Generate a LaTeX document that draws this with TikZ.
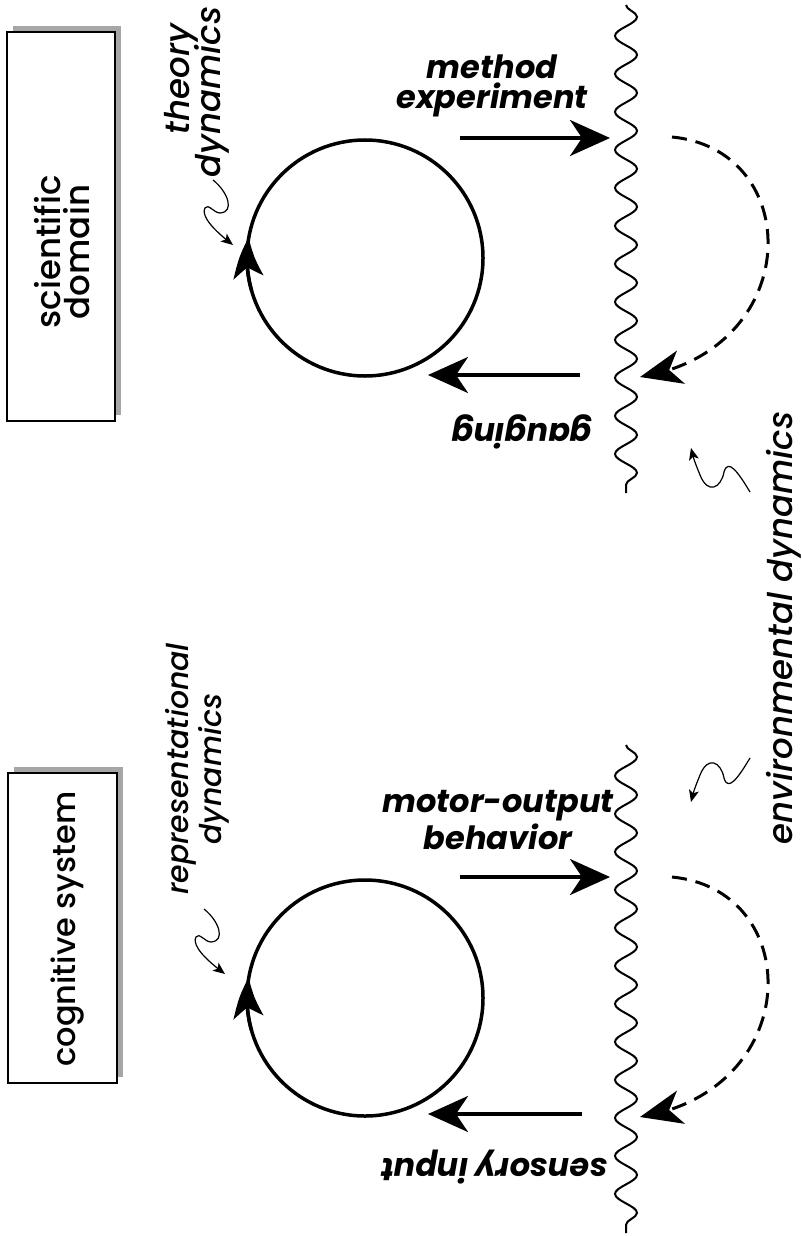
\documentclass[tikz,border=0pt]{standalone}
\usepackage{fontspec}
\setmainfont{Poppins}
\newfontfamily\dynfont{Poppins Medium Italic}
\newfontfamily\boxfont{Poppins Medium}
\usetikzlibrary{arrows.meta,decorations.pathmorphing,bending,shadows}
\begin{document}
\begin{tikzpicture}[x=0.5pt,y=0.5pt,
  boxlab/.style={font=\fontsize{17}{14.5}\boxfont, align=center, inner sep=0pt},
  dynlab/.style={font=\fontsize{15}{13}\dynfont, align=center, inner sep=0pt},
  biglab/.style={font=\fontsize{17}{14}\dynfont, align=center, inner sep=0pt},
  actlab/.style={font=\fontsize{16}{15}\selectfont\bfseries\itshape, align=center, inner sep=0pt},
  framebox/.style={draw, line width=0.7pt, fill=white, inner sep=0pt,
    drop shadow={shadow xshift=3pt, shadow yshift=3pt, fill=black!35, opacity=1}},
  loopc/.style={draw, circle, line width=1.75pt, inner sep=0pt, minimum size=118pt},
  bigarrow/.style={line width=1.75pt, -{Stealth[length=20pt,width=18pt,inset=6pt]}},
  looptip/.style={line width=1.75pt, -{Stealth[length=20pt,width=15pt,inset=5pt,bend]}},
  envarrow/.style={line width=1.5pt, dash pattern=on 7.5pt off 4.5pt, -{Stealth[length=21pt,width=17pt,inset=6pt]}},
  wavy/.style={line width=1pt, decorate, decoration={snake, segment length=19pt, amplitude=5.5pt}},
  pointer/.style={line width=0.6pt, -{Stealth[length=6pt,width=5pt,inset=1.5pt]}},
]
\useasboundingbox (0,0) rectangle (802,-1236);

% ---------------- top panel: scientific domain ----------------
\node[framebox, minimum width=54pt, minimum height=194.5pt] (box1) at (61,-226.5) {};
\node[boxlab, rotate=90] (t1) at (62,-252) {scientific\\domain};
\node[biglab, rotate=90] (d1a) at (181,-79) {theory};
\node[biglab, rotate=90] (d1b) at (212,-92) {dynamics};
\node[loopc] (c1) at (365,-258) {};
\draw[looptip] ([shift={(196:59pt)}]c1.center) arc[start angle=196, end angle=170, radius=59pt];

\coordinate (m1s) at (460,-138); \coordinate (m1e) at (610,-138);
\draw[bigarrow] (m1s) -- (m1e);
\node[actlab] (a1) at (492,-86) {method\\experiment};

\coordinate (g1s) at (580,-375); \coordinate (g1e) at (428,-375);
\draw[bigarrow] (g1s) -- (g1e);
\node[actlab, rotate=180] (gl) at (522,-432) {gauging};

\coordinate (w1t) at (626,-5); \coordinate (w1b) at (626,-493);
\draw[wavy] (w1t) -- (w1b);

\coordinate (e1s) at (672,-137); \coordinate (e1e) at (640,-377);
\draw[envarrow] (e1s) .. controls (805,-150) and (805,-350) .. (e1e);

\coordinate (p1s) at (213,-180); \coordinate (p1e) at (233,-245);
\draw[pointer] (p1s) .. controls (228,-192) and (235,-212) .. (220,-213)
  .. controls (214,-213) and (208,-203) .. (205,-208)
  .. controls (202,-214) and (207,-225) .. (p1e);

% ---------------- environment ----------------
\node[biglab, rotate=90] (el) at (784,-628) {environmental dynamics};
\coordinate (p3s) at (750,-492); \coordinate (p3e) at (691,-448);
\draw[pointer] (p3s) .. controls (738,-472) and (728,-458) .. (724,-472)
  .. controls (721,-488) and (708,-495) .. (700,-475)
  .. controls (696,-465) and (693,-458) .. (p3e);
\coordinate (p4s) at (750,-758); \coordinate (p4e) at (691,-802);
\draw[pointer] (p4s) .. controls (738,-778) and (728,-792) .. (724,-778)
  .. controls (721,-762) and (708,-755) .. (700,-775)
  .. controls (696,-785) and (693,-792) .. (p4e);

% ---------------- bottom panel: cognitive system ----------------
\node[framebox, minimum width=54.5pt, minimum height=155pt] (box2) at (62.5,-928) {};
\node[boxlab, rotate=90, font=\fontsize{16}{14}\boxfont] (t2) at (68,-929) {cognitive system};
\node[dynlab, rotate=90] (d2) at (197,-769) {representational\\dynamics};
\node[loopc] (c2) at (365,-998) {};
\draw[looptip] ([shift={(196:59pt)}]c2.center) arc[start angle=196, end angle=170, radius=59pt];

\coordinate (m2s) at (460,-877); \coordinate (m2e) at (610,-877);
\draw[bigarrow] (m2s) -- (m2e);
\node[actlab] (a2) at (498,-820) {motor-output\\behavior};

\coordinate (g2s) at (582,-1114); \coordinate (g2e) at (428,-1114);
\draw[bigarrow] (g2s) -- (g2e);
\node[actlab, rotate=180] (sl) at (494,-1167) {sensory input};

\coordinate (w2t) at (626,-745); \coordinate (w2b) at (626,-1233);
\draw[wavy] (w2t) -- (w2b);

\coordinate (e2s) at (672,-877); \coordinate (e2e) at (640,-1117);
\draw[envarrow] (e2s) .. controls (805,-890) and (805,-1090) .. (e2e);

\coordinate (p2s) at (204,-909); \coordinate (p2e) at (225,-974);
\draw[pointer] (p2s) .. controls (219,-921) and (226,-941) .. (211,-942)
  .. controls (205,-942) and (199,-932) .. (196,-937)
  .. controls (193,-943) and (198,-954) .. (p2e);
\end{tikzpicture}
\end{document}
